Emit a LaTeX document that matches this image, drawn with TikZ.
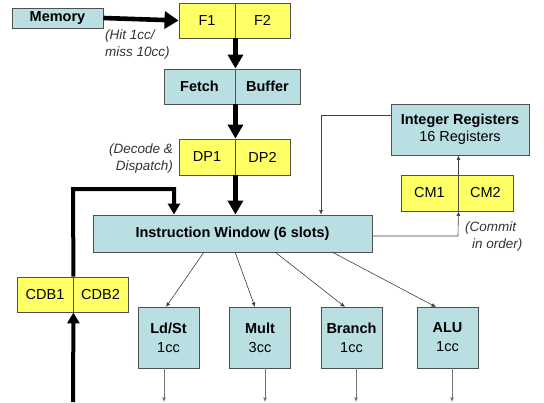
\documentclass[tikz,border=0pt]{standalone}
\usepackage{fontspec}
\setmainfont{Liberation Sans}
\usetikzlibrary{arrows.meta}
\definecolor{boxblue}{HTML}{B9DFE2}
\definecolor{boxyel}{HTML}{FFFF66}
\definecolor{edgec}{HTML}{505050}
\tikzset{
  bx/.style={draw=edgec, line width=0.9pt, inner sep=0pt, font=\fontsize{14.5}{17}\selectfont},
  bluebox/.style={bx, fill=boxblue},
  yelbox/.style={bx, fill=boxyel},
  bigarrow/.style={line width=4.6pt, -{Triangle[length=14pt,width=17pt]}},
  vertarrow/.style={line width=4.6pt, -{Triangle[length=14pt,width=15pt]}},
  thickline/.style={line width=4pt},
  thin arrow/.style={draw=black!75, line width=0.6pt, -{Latex[length=4.5pt,width=4pt]}},
  grey arrow/.style={draw=black!55, line width=0.8pt, -{Latex[length=4.5pt,width=4pt]}},
  note/.style={font=\fontsize{13.5}{16.5}\selectfont\itshape, text=black!80, align=left, inner sep=0pt}
}
\begin{document}
\begin{tikzpicture}[x=1pt,y=-1pt]
\useasboundingbox (0,0) rectangle (544,402);
% Memory
\node[bluebox, minimum width=91pt, minimum height=20pt, font=\fontsize{14.5}{17}\selectfont\bfseries] (mem) at (57.5,18) {Memory};
% F1 F2
\node[yelbox, minimum width=56pt, minimum height=35pt] (f1) at (207,20.5) {F1};
\node[yelbox, minimum width=55pt, minimum height=35pt] (f2) at (262.5,20.5) {F2};
\draw[bigarrow] (mem.east) -- (f1.west);
\node[note, anchor=north west] (hit) at (105,30) {(Hit 1cc/\\miss 10cc)};
% Fetch Buffer
\node[bluebox, minimum width=71pt, minimum height=35pt, font=\fontsize{14.5}{17}\selectfont\bfseries] (fetch) at (199.5,86.5) {Fetch};
\node[bluebox, minimum width=65pt, minimum height=35pt, font=\fontsize{14.5}{17}\selectfont\bfseries] (buf) at (267.5,86.5) {Buffer};
\draw[vertarrow] (f1.south east) -- (fetch.north east);
% DP
\node[yelbox, minimum width=56pt, minimum height=36pt] (dp1) at (207,157) {DP1};
\node[yelbox, minimum width=55pt, minimum height=36pt] (dp2) at (262.5,157) {DP2};
\draw[vertarrow] (fetch.south east) -- (dp1.north east);
\node[note, anchor=north east, align=right] (dec) at (173,144) {(Decode \&\\Dispatch)};
% Instruction window
\node[bluebox, minimum width=279pt, minimum height=37pt, font=\fontsize{14.5}{17}\selectfont\bfseries] (iw) at (232.5,233.5) {Instruction Window (6 slots)};
\draw[vertarrow] (dp1.south east) -- (dp1.south east |- iw.north);
% Integer registers
\node[bluebox, minimum width=138pt, minimum height=51pt, align=center] (ir) at (460,129.5) {\textbf{Integer Registers}\\[0pt]16 Registers};
% CM
\node[yelbox, minimum width=57pt, minimum height=36pt] (cm1) at (429.5,193) {CM1};
\node[yelbox, minimum width=55pt, minimum height=36pt] (cm2) at (485.5,193) {CM2};
\draw[thin arrow] (cm1.north east) -- (cm1.north east |- ir.south);
\coordinate (irl) at (321,115);
\draw[thin arrow] (ir.west |- irl) -- (irl) -- (irl |- iw.north);
\coordinate (cmr) at (458,236);
\draw[thin arrow] (iw.east |- cmr) -- (cmr) -- (cm1.south east);
\node[note, anchor=north west] (commit) at (465,222) {(Commit\\\hspace*{7pt}in order)};
% CDB
\node[yelbox, minimum width=56pt, minimum height=35pt] (cdb1) at (45,294.5) {CDB1};
\node[yelbox, minimum width=55pt, minimum height=35pt] (cdb2) at (100.5,294.5) {CDB2};
\coordinate (bot) at (73,402);
\draw[thickline, -{Triangle[length=11pt,width=12pt]}] (bot) -- (cdb1.south east);
\coordinate (fbtl) at (73,189);
\coordinate (fbtr) at (174,189);
\draw[thickline, -{Triangle[length=11pt,width=12pt]}] (cdb1.north east) -- (fbtl) -- (fbtr) -- (fbtr |- iw.north);
% Units
\tikzset{unit/.style={bluebox, minimum width=61pt, minimum height=61pt, align=center, font=\fontsize{14.5}{19}\selectfont}}
\node[unit] (ld) at (168.5,337.5) {\textbf{Ld/St}\\1cc};
\node[unit] (mu) at (260,337.5) {\textbf{Mult}\\3cc};
\node[unit] (br) at (351.5,337.5) {\textbf{Branch}\\1cc};
\node[unit] (alu) at (447.5,337.5) {\textbf{ALU}\\1cc};
\coordinate (s1) at (204,252);
\coordinate (s2) at (235,252);
\coordinate (s3) at (275,252);
\coordinate (s4) at (332,252);
\draw[thin arrow] (s1) -- (166,307);
\draw[thin arrow] (s2) -- (255,307);
\draw[thin arrow] (s3) -- (345,307);
\draw[thin arrow] (s4) -- (436,307);
% outputs
\coordinate (o1) at (164,402);
\coordinate (o2) at (265,402);
\coordinate (o3) at (356,402);
\coordinate (o4) at (452,402);
\draw[grey arrow] (ld.south -| o1) -- (o1);
\draw[grey arrow] (mu.south -| o2) -- (o2);
\draw[grey arrow] (br.south -| o3) -- (o3);
\draw[grey arrow] (alu.south -| o4) -- (o4);
\end{tikzpicture}
\end{document}
